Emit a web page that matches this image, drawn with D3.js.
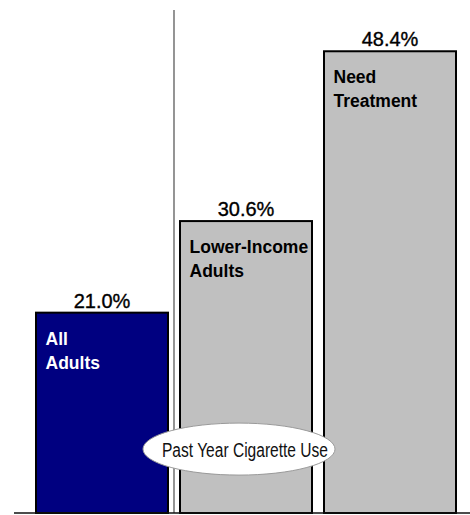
<!DOCTYPE html>
<html>
<head>
<meta charset="utf-8">
<script src="https://cdn.jsdelivr.net/npm/d3@7"></script>
<style>
  html, body { margin: 0; padding: 0; background: #fff; }
  svg { display: block; }
  text { font-family: "Liberation Sans", Arial, Helvetica, sans-serif; }
</style>
</head>
<body>
<svg id="chart" width="470" height="515"></svg>
<script>
// ---- data ----
const categories = ["All Adults", "Lower-Income Adults", "Need Treatment"];
const labelLines = [["All", "Adults"], ["Lower-Income", "Adults"], ["Need", "Treatment"]];
const values = [21.0, 30.6, 48.4];
const valueLabels = ["21.0%", "30.6%", "48.4%"];
const barColors = ["#000080", "#c0c0c0", "#c0c0c0"];
const innerTextColors = ["#ffffff", "#000000", "#000000"];
const annotation = "Past Year Cigarette Use";

// ---- layout ----
const svg = d3.select("#chart");
const baseY = 513;

const x = d3.scaleBand()
  .domain(categories)
  .range([30, 462])
  .paddingInner(12 / 144)
  .paddingOuter(6 / 144);

const y = d3.scaleLinear()
  .domain([0, 50])
  .range([baseY, 36]);

const data = categories.map((c, i) => ({
  cat: c, value: values[i], label: valueLabels[i], lines: labelLines[i],
  fill: barColors[i], tcol: innerTextColors[i]
}));

// separator line between first and second bar
const sepX = (x(categories[0]) + x.bandwidth() + x(categories[1])) / 2;
svg.append("line")
  .attr("x1", sepX).attr("x2", sepX)
  .attr("y1", 10).attr("y2", baseY)
  .attr("stroke", "#7a7a7a")
  .attr("stroke-width", 1.6);

// bars
svg.selectAll("rect.bar")
  .data(data)
  .join("rect")
  .attr("class", "bar")
  .attr("x", d => x(d.cat))
  .attr("y", d => y(d.value))
  .attr("width", x.bandwidth())
  .attr("height", d => baseY - y(d.value))
  .attr("fill", d => d.fill)
  .attr("stroke", "#000")
  .attr("stroke-width", 2);

// value labels
svg.selectAll("text.val")
  .data(data)
  .join("text")
  .attr("class", "val")
  .attr("x", d => x(d.cat) + x.bandwidth() / 2)
  .attr("y", d => y(d.value) - 5)
  .attr("text-anchor", "middle")
  .attr("font-size", 20)
  .attr("fill", "#000")
  .attr("stroke", "#000")
  .attr("stroke-width", 0.35)
  .text(d => d.label);

// inside labels
const inner = svg.selectAll("text.inner")
  .data(data)
  .join("text")
  .attr("class", "inner")
  .attr("font-size", 17.5)
  .attr("font-weight", "bold")
  .attr("fill", d => d.tcol);
inner.selectAll("tspan")
  .data(d => d.lines.map((t, j) => ({ t, j, d })))
  .join("tspan")
  .attr("x", o => x(o.d.cat) + 9.5)
  .attr("y", o => y(o.d.value) + 32 + o.j * 24)
  .text(o => o.t);

// baseline
svg.append("line")
  .attr("x1", 14).attr("x2", 470)
  .attr("y1", y(0)).attr("y2", y(0))
  .attr("stroke", "#111")
  .attr("stroke-width", 1.5);

// annotation ellipse
const cx = x(categories[1]) + x.bandwidth() / 2 - 7;
const cy = y(6.7);
svg.append("ellipse")
  .attr("cx", cx).attr("cy", cy)
  .attr("rx", 96).attr("ry", 26)
  .attr("fill", "#fff")
  .attr("stroke", "#9a9a9a")
  .attr("stroke-width", 1);
svg.append("text")
  .attr("x", cx + 6)
  .attr("y", cy + 8)
  .attr("text-anchor", "middle")
  .attr("font-size", 20)
  .attr("textLength", 166)
  .attr("lengthAdjust", "spacingAndGlyphs")
  .attr("fill", "#111")
  .text(annotation);
</script>
</body>
</html>
